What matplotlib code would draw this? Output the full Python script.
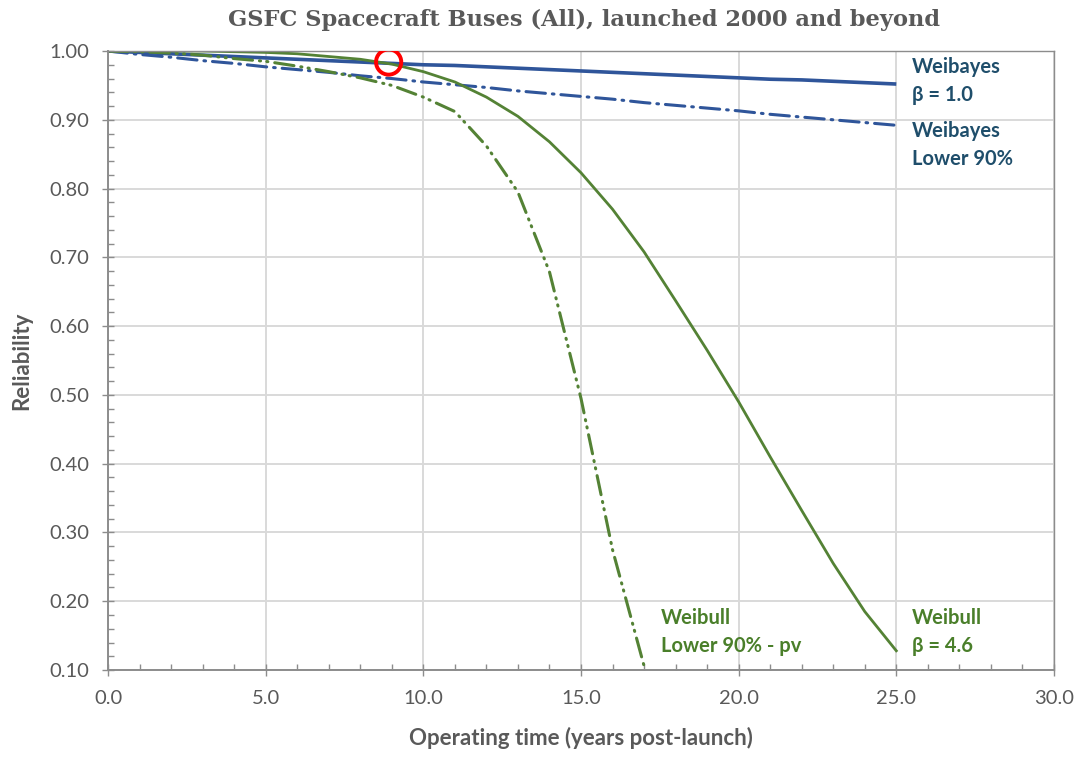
import matplotlib
matplotlib.use("Agg")
import matplotlib.pyplot as plt
from matplotlib.ticker import MultipleLocator, FormatStrFormatter

# values (years post-launch -> reliability)
years = list(range(0, 26))
weibayes_b1 = [1.000, 0.998, 0.996, 0.994, 0.992, 0.990, 0.988, 0.986, 0.984, 0.982,
               0.980, 0.979, 0.977, 0.975, 0.973, 0.971, 0.969, 0.967, 0.965, 0.963,
               0.961, 0.959, 0.958, 0.956, 0.954, 0.952]
weibayes_low = [1.000, 0.995, 0.991, 0.986, 0.982, 0.977, 0.973, 0.969, 0.964, 0.960,
                0.955, 0.951, 0.947, 0.942, 0.938, 0.934, 0.930, 0.925, 0.921, 0.917,
                0.913, 0.908, 0.904, 0.900, 0.896, 0.892]
weibull_b46 = [1.000, 1.000, 1.000, 1.000, 0.999, 0.998, 0.996, 0.992, 0.988, 0.981,
               0.970, 0.955, 0.933, 0.905, 0.868, 0.823, 0.770, 0.708, 0.637, 0.565,
               0.490, 0.410, 0.332, 0.255, 0.185, 0.128]
years_low = list(range(0, 18))
weibull_low = [1.000, 0.999, 0.997, 0.994, 0.989, 0.985, 0.978, 0.970, 0.961, 0.950,
               0.933, 0.912, 0.862, 0.795, 0.679, 0.495, 0.275, 0.106]

marked_point = (8.9, 0.984)

title = "GSFC Spacecraft Buses (All), launched 2000 and beyond"
xlabel = "Operating time (years post-launch)"
ylabel = "Reliability"

blue = "#2F559A"
green = "#548235"
teal = "#1F4E6B"
text_green = "#4A7F2A"
gray = "#595959"

plt.rcParams['font.family'] = ['Lato', 'DejaVu Sans']
plt.rcParams['lines.scale_dashes'] = False

fig = plt.figure(figsize=(10.77, 7.57), dpi=100)
ax = fig.add_axes([0.1003, 0.1149, 0.8783, 0.8177])

ax.plot(years, weibayes_b1, color=blue, lw=2.6, solid_capstyle='butt')
ax.plot(years, weibayes_low, color=blue, lw=2.2, dashes=(14, 5, 1.2, 5),
        dash_capstyle='round')
ax.plot(years, weibull_b46, color=green, lw=2.0)
ax.plot(years_low, weibull_low, color=green, lw=2.2, dashes=(14, 5, 0.8, 4.5, 0.8, 5),
        dash_capstyle='round')

ax.scatter([marked_point[0]], [marked_point[1]], s=330, facecolors='none',
           edgecolors='#FF0000', linewidths=2.8, zorder=5)

ax.set_xlim(0, 30)
ax.set_ylim(0.10, 1.00)
ax.xaxis.set_major_locator(MultipleLocator(5))
ax.xaxis.set_minor_locator(MultipleLocator(1))
ax.yaxis.set_major_locator(MultipleLocator(0.1))
ax.yaxis.set_minor_locator(MultipleLocator(0.02))
ax.xaxis.set_major_formatter(FormatStrFormatter('%.1f'))
ax.yaxis.set_major_formatter(FormatStrFormatter('%.2f'))

ax.grid(True, which='major', color='#D9D9D9', lw=1.4)
ax.set_axisbelow(True)
ax.tick_params(which='major', direction='inout', length=9, width=1, color='#8C8C8C',
               labelsize=14.5, labelcolor=gray)
ax.tick_params(axis='x', which='major', pad=10)
ax.tick_params(axis='y', which='major', pad=9)
ax.tick_params(which='minor', direction='in', length=4, width=1, color='#8C8C8C')
for s in ax.spines.values():
    s.set_color('#8C8C8C')
    s.set_linewidth(1.0)
ax.spines['bottom'].set_linewidth(1.4)
ax.spines['left'].set_linewidth(1.4)

ax.set_xlabel(xlabel, fontsize=16, fontweight='bold', color=gray, labelpad=14)
ax.set_ylabel(ylabel, fontsize=16, fontweight='bold', color=gray, labelpad=12)
fig.suptitle(title, x=0.542, y=0.988, fontsize=16.2, fontweight='bold', color=gray,
             family='DejaVu Serif')

label_kw = dict(fontsize=14.5, fontweight='bold', linespacing=1.5, va='center', ha='left')
ax.text(25.5, 0.956, "Weibayes\nβ = 1.0", color=teal, **label_kw)
ax.text(25.5, 0.863, "Weibayes\nLower 90%", color=teal, **label_kw)
ax.text(17.53, 0.156, "Weibull\nLower 90% - pv", color=text_green, **label_kw)
ax.text(25.49, 0.156, "Weibull\nβ = 4.6", color=text_green, **label_kw)

fig.savefig("out.png", dpi=100)
